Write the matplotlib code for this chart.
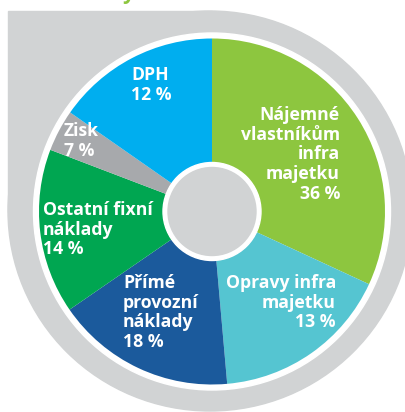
import matplotlib
matplotlib.use("Agg")
import matplotlib.pyplot as plt
from matplotlib.patches import Circle, Ellipse, Rectangle

# ---- data ----
categories = ["Nájemné\nvlastníkům\ninfra\nmajetku", "Opravy infra\nmajetku",
              "Přímé\nprovozní\nnáklady", "Ostatní fixní\nnáklady", "Zisk", "DPH"]
label_pct = [36, 13, 18, 14, 7, 12]
# wedge shares as drawn in the picture (degrees measured / 3.6)
wedge_share = [31.9, 16.7, 16.8, 15.4, 3.9, 15.3]
colors = ["#8DC63F", "#55C5D1", "#1B5A9C", "#00A651", "#A7A9AC", "#00AEEF"]

W, H = 406, 412
fig = plt.figure(figsize=(W / 100, H / 100), dpi=100)
ax = fig.add_axes([0, 0, 1, 1])

def Y(py):
    return H - py

cx, cy = 212, Y(211.5)
ring_gray = "#D1D3D4"

# background gray shape
ax.add_patch(Ellipse((210, Y(211)), 404, 400, color=ring_gray, zorder=0))
ax.add_patch(Rectangle((8, cy), cx - 8, Y(11) - cy, color=ring_gray, zorder=0))
# white ring around pie
ax.add_patch(Circle((cx, cy), 178.5, color="white", zorder=1))

ax.pie(wedge_share, colors=colors, startangle=90, counterclock=False,
       center=(cx, cy), radius=173, wedgeprops=dict(linewidth=0, zorder=2))
for w in ax.patches[-len(wedge_share):]:
    w.set_zorder(2)

ax.add_patch(Circle((cx, cy), 49, color="white", zorder=3))
ax.add_patch(Circle((cx, cy), 44, color=ring_gray, zorder=4))

ax.set_xlim(0, W)
ax.set_ylim(0, H)
ax.set_aspect("equal")
ax.axis("off")

font = dict(family=["Open Sans", "DejaVu Sans"], weight="bold", color="white",
            fontsize=12.7, linespacing=1.12, zorder=5)

# label placements (x, top y in px, alignment)
place = [(340, 106, "right"), (336, 274, "right"), (123, 274, "left"),
         (43, 201, "left"), (64, 122, "left"), (131, 66, "left")]
for cat, pct, (px, py, ha) in zip(categories, label_pct, place):
    ax.text(px, Y(py), f"{cat}\n{pct} %", ha=ha, va="top", multialignment=ha, **font)

# clipped title fragment at the very top
ax.text(129, Y(-1), "y", ha="center", va="baseline", color="#8DC63F",
        fontsize=15, family="Open Sans", weight="bold")

fig.savefig("out.png", dpi=100)
